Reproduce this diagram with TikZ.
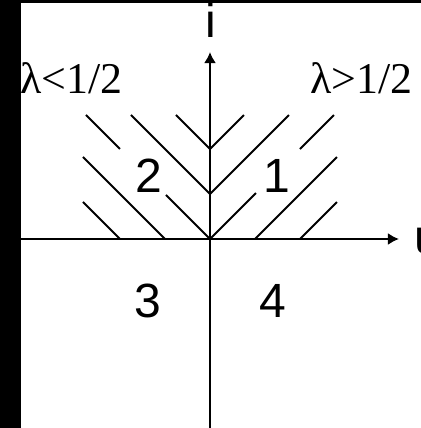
\documentclass[tikz,border=0pt]{standalone}
\usepackage{fontspec}
\setmainfont{Liberation Serif}
\newfontfamily\labfont{Liberation Sans}
\usepackage{tikz}
\usetikzlibrary{arrows.meta}

\tikzset{
  axis/.style={line width=2.3pt,-{Latex[length=3.3mm,width=3.6mm]}},
  hatch/.style={line width=1.6pt},
  region/.style={inner sep=0pt,font=\labfont\fontsize{41}{41}\selectfont},
  lam/.style={inner sep=0pt,font=\fontsize{37.5}{37.5}\selectfont}
}

\begin{document}
\begin{tikzpicture}[x=0.3mm,y=0.3mm]
  \useasboundingbox (-210,-189) rectangle (211,239);
  % axes
  \coordinate (west) at (-200,0);
  \coordinate (east) at (189,0);
  \coordinate (south) at (0,-195);
  \coordinate (north) at (0,187);
  \draw[axis] (west) -- (east);
  \draw[axis] (south) -- (north);
  \node[region,anchor=base] (ilab) at (1,202) {i};
  \node[region,anchor=base west] (ulab) at (204,-14) {u};
  % hatching, lambda < 1/2
  \draw[hatch] (-127,37) -- (-90,0);
  \draw[hatch] (-127,82) -- (-45,0);
  \draw[hatch] (-124,124) -- (-90,90);
  \draw[hatch] (-44,44) -- (0,0);
  \draw[hatch] (-79,124) -- (0,45);
  \draw[hatch] (-34,124) -- (0,90);
  % hatching, lambda > 1/2
  \draw[hatch] (127,37) -- (90,0);
  \draw[hatch] (127,82) -- (45,0);
  \draw[hatch] (124,124) -- (90,90);
  \draw[hatch] (46,46) -- (0,0);
  \draw[hatch] (79,124) -- (0,45);
  \draw[hatch] (34,124) -- (0,90);
  % labels
  \node[lam,anchor=base west] (lamlo) at (-190,146) {λ<1/2};
  \node[lam,anchor=base east] (lamhi) at (203,146) {λ>1/2};
  \node[region] (reg1) at (67,63) {1};
  \node[region] (reg2) at (-61,63) {2};
  \node[region] (reg3) at (-62,-62) {3};
  \node[region] (reg4) at (63,-62) {4};
  % frame edges
  \fill (-210,-189) rectangle (-189,239);
  \fill (-210,236) rectangle (211,239);
\end{tikzpicture}
\end{document}
